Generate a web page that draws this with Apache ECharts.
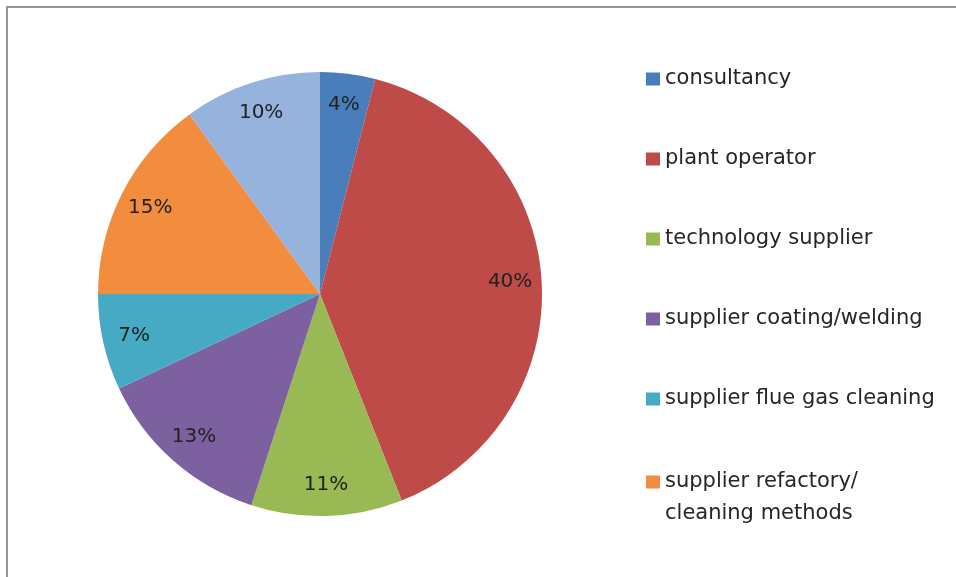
<!DOCTYPE html>
<html>
<head>
<meta charset="utf-8">
<script src="https://cdn.jsdelivr.net/npm/echarts@6/dist/echarts.min.js"></script>
<style>
  html, body { margin: 0; padding: 0; background: #ffffff; }
  #chart { width: 956px; height: 577px; }
</style>
</head>
<body>
<div id="chart"></div>
<script>
// Respondent groups, clockwise from 12 o'clock
const categories = [
  'consultancy',
  'plant operator',
  'technology supplier',
  'supplier coating/welding',
  'supplier flue gas cleaning',
  'supplier refactory/\ncleaning methods',
  'others'
];
// Share of respondents, in percent
const shares = [4, 40, 11, 13, 7, 15, 10];
const colors = ['#4A7EBB', '#BE4B48', '#98B954', '#7D60A0', '#46AAC5', '#F28D40', '#95B3DC'];

const slices = categories.map((name, i) => ({
  name: name,
  value: shares[i],
  itemStyle: { color: colors[i] }
}));

const FONT = 'DejaVu Sans';
const legendText = { fontFamily: FONT, fontSize: 21, color: '#262626', lineHeight: 22 };

const chart = echarts.init(document.getElementById('chart'), null, { renderer: 'canvas' });
chart.setOption({
  animation: false,
  backgroundColor: '#ffffff',
  graphic: [{
    type: 'rect',
    silent: true,
    z: -10,
    shape: { x: 7, y: 7, width: 1000, height: 620 },
    style: { fill: 'none', stroke: '#959595', lineWidth: 2 }
  }],
  legend: [
    {
      orient: 'vertical',
      left: 641,
      top: 63,
      icon: 'rect',
      itemWidth: 14,
      itemHeight: 13,
      itemGap: 58,
      selectedMode: false,
      data: categories.slice(0, 5),
      textStyle: legendText
    },
    {
      // two-line entry: tall icon box keeps the swatch beside the first line
      orient: 'vertical',
      left: 641,
      top: 461,
      icon: 'path://M0,0L14,0L14,13L0,13Z M0,45L0.01,45Z',
      itemWidth: 14,
      itemHeight: 45,
      selectedMode: false,
      data: [categories[5]],
      textStyle: Object.assign({}, legendText, { lineHeight: 32 })
    }
  ],
  series: [
    {
      // filled slices
      type: 'pie',
      center: [320, 294],
      radius: [0, 222],
      startAngle: 90,
      clockwise: true,
      silent: true,
      avoidLabelOverlap: false,
      emphasis: { disabled: true },
      label: { show: false },
      labelLine: { show: false },
      data: slices
    },
    {
      // transparent ring carrying the percentage labels near the rim
      type: 'pie',
      center: [320, 294],
      radius: [153, 222],
      startAngle: 90,
      clockwise: true,
      silent: true,
      avoidLabelOverlap: false,
      emphasis: { disabled: true },
      label: {
        show: true,
        position: 'inside',
        formatter: p => p.value + '%',
        fontFamily: FONT,
        fontSize: 20,
        color: '#222222'
      },
      labelLine: { show: false },
      data: slices.map(s => ({ name: s.name, value: s.value, itemStyle: { color: 'rgba(0,0,0,0)' } }))
    }
  ]
});
</script>
</body>
</html>
